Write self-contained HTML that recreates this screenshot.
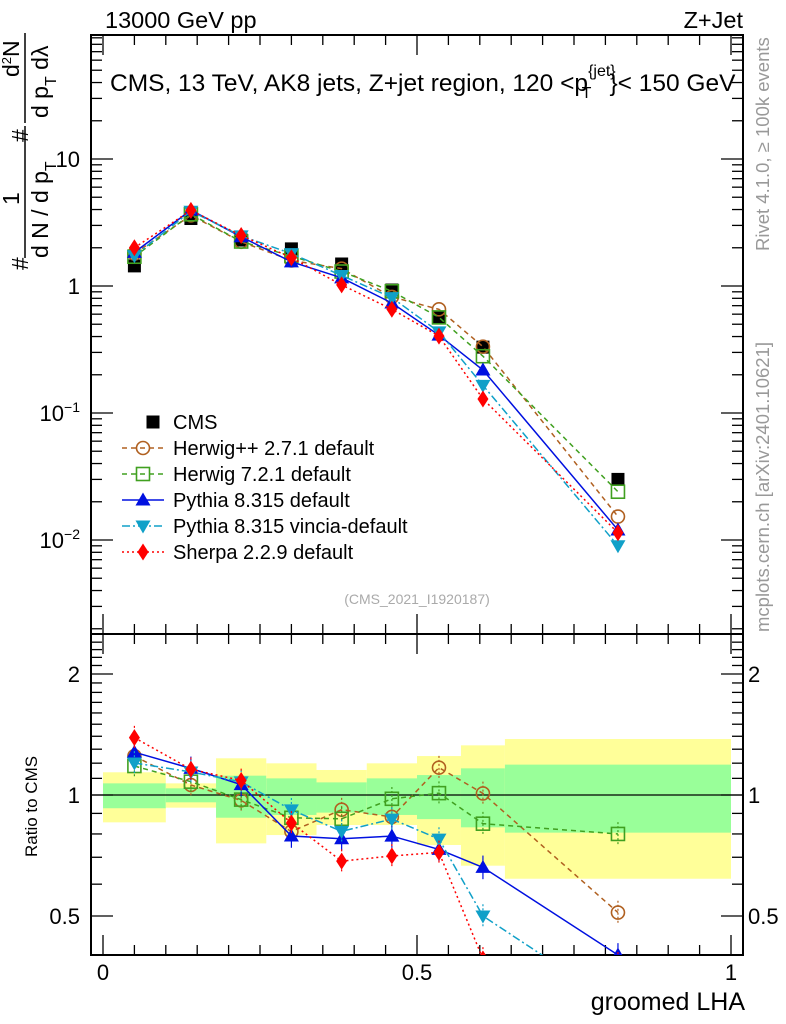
<!DOCTYPE html>
<html><head><meta charset="utf-8"><style>
body{margin:0;background:#fff;}
svg{display:block;font-family:"Liberation Sans",sans-serif;}
</style></head><body>
<svg id="plot" width="786" height="1024" viewBox="0 0 786 1024" xmlns="http://www.w3.org/2000/svg">
<g id="bands"></g>
<g id="axes"></g>
<g id="series"></g>
<g id="labels">
<text x="105" y="28" font-size="23.5">13000 GeV pp</text>
<text x="743" y="28" font-size="23.5" text-anchor="end">Z+Jet</text>
<text x="110" y="91" font-size="24.5">CMS, 13 TeV, AK8 jets, Z+jet region, 120 &lt;p<tspan font-size="16" dy="-15">{jet}</tspan><tspan font-size="16" dx="-34" dy="22">T</tspan><tspan dx="18" dy="-7">}&lt; 150 GeV</tspan></text>
<text x="417" y="604" font-size="14" fill="#aaa" text-anchor="middle">(CMS_2021_I1920187)</text>
<text transform="translate(769,251) rotate(-90)" font-size="18.5" fill="#999">Rivet 4.1.0, ≥ 100k events</text>
<text transform="translate(769,632) rotate(-90)" font-size="18.5" fill="#999">mcplots.cern.ch [arXiv:2401.10621]</text>
<text transform="translate(37,857) rotate(-90)" font-size="17">Ratio to CMS</text>
<text x="745" y="1010" font-size="25" text-anchor="end">groomed LHA</text>
<g font-size="23">
<text transform="translate(28,270) rotate(-90)">#</text>
<text transform="translate(19,205) rotate(-90)">1</text>
<line x1="25" y1="258" x2="25" y2="126" stroke="#000" stroke-width="1.5"/>
<text transform="translate(48,258) rotate(-90)">d N / d p<tspan font-size="16" dy="8">T</tspan></text>
<text transform="translate(28,142) rotate(-90)">#</text>
<text transform="translate(19,77) rotate(-90)">d<tspan font-size="13" dy="-8">2</tspan><tspan dy="8">N</tspan></text>
<line x1="25" y1="123" x2="25" y2="33" stroke="#000" stroke-width="1.5"/>
<text transform="translate(48,118) rotate(-90)">d p<tspan font-size="16" dy="8">T</tspan><tspan dy="-8"> dλ</tspan></text>
</g>
</g>
<g id="legend"></g>
</svg>
<script>
const edges=[0,0.1,0.18,0.26,0.34,0.42,0.5,0.57,0.64,1.0];
const centers=[0.05,0.14,0.22,0.30,0.38,0.46,0.535,0.605,0.82];
const cms=[1.44,3.4,2.3,1.96,1.49,0.93,0.56,0.33,0.030];
const herwigpp=[1.80,3.60,2.23,1.59,1.37,0.82,0.655,0.333,0.0153];
const herwig7=[1.70,3.67,2.24,1.72,1.30,0.91,0.566,0.28,0.024];
const pythia=[1.84,3.96,2.44,1.55,1.16,0.735,0.41,0.218,0.012];
const vincia=[1.73,3.88,2.48,1.80,1.21,0.81,0.435,0.165,0.009];
const sherpa=[2.0,3.94,2.50,1.67,1.02,0.656,0.403,0.129,0.0114];
const yellowHi=[1.139,1.069,1.234,1.199,1.154,1.199,1.25,1.329,1.378];
const yellowLo=[0.855,0.93,0.758,0.795,0.842,0.842,0.751,0.667,0.619];
const greenHi=[1.069,1.039,1.117,1.10,1.075,1.10,1.121,1.165,1.19];
const greenLo=[0.927,0.959,0.878,0.892,0.904,0.892,0.871,0.831,0.806];
const xTicks=[0,0.5,1];
const xTickLabels=["0","0.5","1"];
const mainTicks=[0.01,0.1,1,10];
const ratioTicks=[0.5,1,2];
const ratioTickLabels=["0.5","1","2"];

const NS="http://www.w3.org/2000/svg";
const FL=91,FR=743,MT=35,MB=634,RB=955;
const X=v=>103+628*v;
const Y=v=>286-127*Math.log10(v);
const R=v=>795-121*Math.log2(v);
function mk(tag,attrs,parent){const e=document.createElementNS(NS,tag);for(const k in attrs)e.setAttribute(k,attrs[k]);parent.appendChild(e);return e;}
const gB=document.getElementById('bands'),gA=document.getElementById('axes'),gS=document.getElementById('series'),gL=document.getElementById('legend');

for(let i=0;i<centers.length;i++){
  const y=mk('rect',{x:X(edges[i]),y:R(yellowHi[i]),width:X(edges[i+1])-X(edges[i]),height:R(yellowLo[i])-R(yellowHi[i]),fill:'#ffff99'},gB);
  
  
  const g=mk('rect',{x:X(edges[i]),y:R(greenHi[i]),width:X(edges[i+1])-X(edges[i]),height:R(greenLo[i])-R(greenHi[i]),fill:'#99ff99'},gB);
  
  
}
const f1=mk('rect',{x:FL,y:MT,width:FR-FL,height:MB-MT,fill:'none',stroke:'#000','stroke-width':2},gA);


const f2=mk('rect',{x:FL,y:MB,width:FR-FL,height:RB-MB,fill:'none',stroke:'#000','stroke-width':2},gA);


const one=mk('line',{x1:FL,x2:FR,y1:R(1),y2:R(1),stroke:'#000','stroke-width':1.3},gA);


for(let k=0;k<=20;k++){const v=k*0.05;const maj=(k%10==0);const len=maj?20:10;const x=X(v);
  [[MT,1],[MB,-1],[MB,1],[RB,-1]].forEach(([y0,d])=>mk('line',{x1:x,x2:x,y1:y0,y2:y0+d*len,stroke:'#000','stroke-width':1.3},gA));}
xTicks.forEach((v,i)=>{const t=mk('text',{x:X(v),y:980,'font-size':22,'text-anchor':'middle'},gA);t.textContent=xTickLabels[i];
  
  });
for(let d=-3;d<=1;d++){for(let m=1;m<=9;m++){const v=m*Math.pow(10,d);const y=Y(v);if(y<MT||y>MB)continue;const len=m==1?22:11;
  mk('line',{x1:FL,x2:FL+len,y1:y,y2:y,stroke:'#000','stroke-width':1.3},gA);mk('line',{x1:FR,x2:FR-len,y1:y,y2:y,stroke:'#000','stroke-width':1.3},gA);}}
mainTicks.forEach(v=>{const y=Y(v);const t=mk('text',{x:80,y:y+8,'font-size':22,'text-anchor':'end'},gA);
  if(v>=1)t.textContent=String(v);else{t.textContent='10';const s=mk('tspan',{dy:-9,'font-size':14},t);s.textContent=String(Math.round(Math.log10(v))).replace('-','−');}
  
  });
[0.5,0.6,0.7,0.8,0.9,1,1.1,1.2,1.3,1.4,1.5,1.6,1.7,1.8,1.9,2,2.1,2.2,2.3,2.4].forEach(v=>{const y=R(v);if(y<MB||y>RB)return;const maj=(v==0.5||v==1||v==2);const len=maj?22:11;
  mk('line',{x1:FL,x2:FL+len,y1:y,y2:y,stroke:'#000','stroke-width':1.3},gA);mk('line',{x1:FR,x2:FR-len,y1:y,y2:y,stroke:'#000','stroke-width':1.3},gA);});
ratioTicks.forEach((v,i)=>{[[80,'end'],[748,'start']].forEach(([x,a])=>{const t=mk('text',{x:x,y:R(v)+8,'font-size':22,'text-anchor':a},gA);t.textContent=ratioTickLabels[i];
  
  });});

function marker(type,x,y,col,parent,s){s=s||6.5;
  if(type=='square')return mk('rect',{x:x-s,y:y-s,width:2*s,height:2*s,fill:'#000'},parent);
  if(type=='osquare')return mk('rect',{x:x-s,y:y-s,width:2*s,height:2*s,fill:'none',stroke:col,'stroke-width':1.6},parent);
  if(type=='circle')return mk('circle',{cx:x,cy:y,r:s,fill:'none',stroke:col,'stroke-width':1.6},parent);
  if(type=='tri')return mk('polygon',{points:`${x},${y-s-1} ${x-s-1},${y+s-1} ${x+s+1},${y+s-1}`,fill:col},parent);
  if(type=='itri')return mk('polygon',{points:`${x},${y+s+1} ${x-s-1},${y-s+1} ${x+s+1},${y-s+1}`,fill:col},parent);
  if(type=='diam')return mk('polygon',{points:`${x},${y-s-2} ${x-s+1},${y} ${x},${y+s+2} ${x+s-1},${y}`,fill:col},parent);
}
const series=[
 {name:'herwigpp',label:'Herwig++ 2.7.1 default',vals:herwigpp,col:'#b06020',dash:'5,4',m:'circle'},
 {name:'herwig7',label:'Herwig 7.2.1 default',vals:herwig7,col:'#40a020',dash:'5,4',m:'osquare'},
 {name:'pythia',label:'Pythia 8.315 default',vals:pythia,col:'#0010e0',dash:'',m:'tri'},
 {name:'vincia',label:'Pythia 8.315 vincia-default',vals:vincia,col:'#10a0c8',dash:'8,3,2,3',m:'itri'},
 {name:'sherpa',label:'Sherpa 2.2.9 default',vals:sherpa,col:'#ff0000',dash:'2,3',m:'diam'}
];
const defs=mk('defs',{},gS);const cp=mk('clipPath',{id:'rclip'},defs);mk('rect',{x:FL,y:MB,width:FR-FL,height:RB-MB},cp);
centers.forEach((c,i)=>{const e=marker('square',X(c),Y(cms[i]),'#000',gS);
  
  });
series.forEach(s=>{
  const g=mk('g',{},gS);
  
  
  const pts=centers.map((c,i)=>X(c)+','+Y(s.vals[i])).join(' ');
  mk('polyline',{points:pts,fill:'none',stroke:s.col,'stroke-width':1.5,'stroke-dasharray':s.dash},g);
  centers.forEach((c,i)=>marker(s.m,X(c),Y(s.vals[i]),s.col,g));
  const rg=mk('g',{'clip-path':'url(#rclip)'},gS);
  
  
  const rp=centers.map((c,i)=>X(c)+','+R(s.vals[i]/cms[i])).join(' ');
  mk('polyline',{points:rp,fill:'none',stroke:s.col,'stroke-width':1.5,'stroke-dasharray':s.dash},rg);
  centers.forEach((c,i)=>{const r=s.vals[i]/cms[i];const x=X(c);
    mk('line',{x1:x,x2:x,y1:R(r*1.07),y2:R(r/1.07),stroke:s.col,'stroke-width':1.2,'stroke-dasharray':s.dash?'2,2':''},rg);
    marker(s.m,x,R(r),s.col,rg);});
});
const ly=[422,448,474,500,526,552];
const cmsL=marker('square',153,ly[0],'#000',gL);


const t0=mk('text',{x:173,y:ly[0]+7,'font-size':20},gL);t0.textContent='CMS';


series.forEach((s,i)=>{const y=ly[i+1];
  mk('line',{x1:122,x2:164,y1:y,y2:y,stroke:s.col,'stroke-width':1.5,'stroke-dasharray':s.dash},gL);
  marker(s.m,143,y,s.col,gL);
  const t=mk('text',{x:173,y:y+7,'font-size':20},gL);t.textContent=s.label;
  
  
});
</script>
</body></html>
